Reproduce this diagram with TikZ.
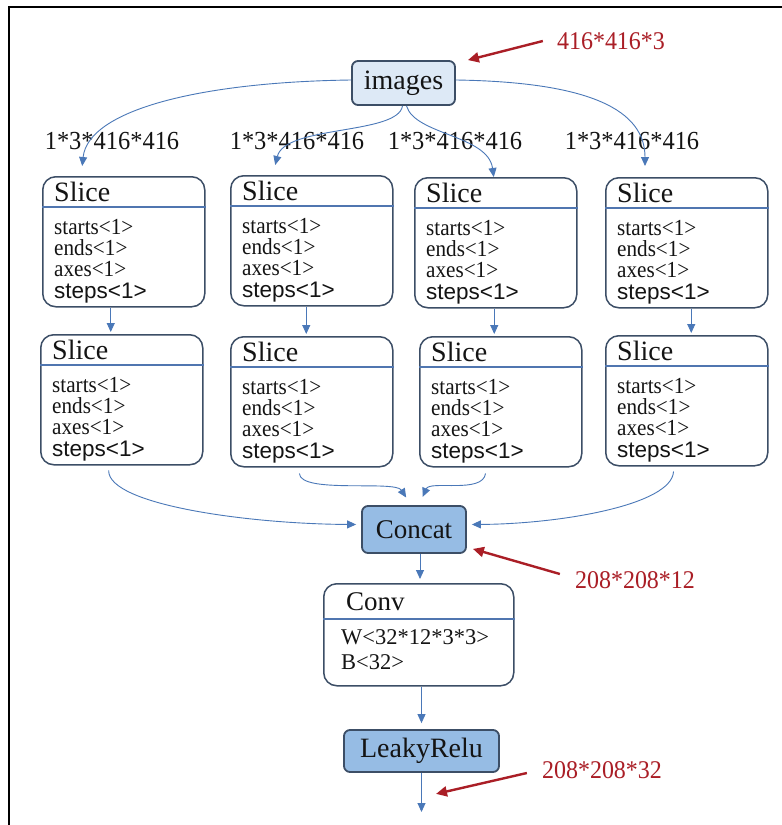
\documentclass[tikz,border=0pt]{standalone}
\usepackage{fontspec}
\setmainfont{Liberation Serif}
\newfontfamily\asans{Liberation Sans}
\newfontfamily\cserif{Liberation Serif}[FakeStretch=0.92]
\newfontfamily\lserif{Liberation Serif}[FakeStretch=0.94]
\usetikzlibrary{arrows.meta}
\definecolor{bordc}{RGB}{60,78,102}
\definecolor{hdrc}{RGB}{80,118,176}
\definecolor{cblue}{RGB}{74,120,184}
\definecolor{lightb}{RGB}{221,233,246}
\definecolor{midb}{RGB}{150,188,228}
\definecolor{redc}{RGB}{170,30,38}
\definecolor{txt}{RGB}{20,20,20}
\tikzset{
  slicebox/.style={draw=bordc,line width=1.5pt,rounded corners=13pt,minimum width=162pt,minimum height=130pt,inner sep=0pt},
  convbox/.style={draw=bordc,line width=1.5pt,rounded corners=13pt,minimum width=190pt,minimum height=102pt,inner sep=0pt},
  hdr/.style={draw=hdrc,line width=1.2pt},
  ttl/.style={inner sep=0pt,text=txt,font=\fontsize{28}{28}\selectfont},
  bdy/.style={inner sep=0pt,text=txt,text height=14pt,text depth=3pt,font=\cserif\fontsize{23}{23}\selectfont},
  bdys/.style={inner sep=0pt,text=txt,text height=14pt,text depth=3pt,font=\asans\fontsize{22.5}{22.5}\selectfont},
  opbox/.style={draw=bordc,line width=1.8pt,rounded corners=6pt,inner sep=0pt,text=txt},
  dimlbl/.style={inner sep=0pt,text=txt,font=\lserif\fontsize{26}{26}\selectfont},
  redlbl/.style={inner sep=0pt,text=redc,font=\lserif\fontsize{25.5}{25.5}\selectfont},
  conn/.style={draw=cblue,line width=0.9pt,-{Triangle[length=9pt,width=8pt]}},
  redarr/.style={draw=redc,line width=2.4pt,-{Triangle[length=11pt,width=10pt]}}
}
\newcommand\slicebx[3]{%
  \node[slicebox,anchor=north west] (#1) at (#2,#3) {};
  \draw[hdr] ([yshift=-31pt]#1.north west) -- ([yshift=-31pt]#1.north east);
  \node[ttl,anchor=base west] (#1t) at (#2+12,#3+25) {Slice};
  \node[bdy,anchor=base west] (#1a) at (#2+12,#3+58) {starts<1>};
  \node[bdy,anchor=base west] (#1b) at (#2+12,#3+79) {ends<1>};
  \node[bdy,anchor=base west] (#1c) at (#2+12,#3+100) {axes<1>};
  \node[bdys,anchor=base west] (#1d) at (#2+12,#3+122) {steps<1>};
}
\begin{document}
\begin{tikzpicture}[x=1pt,y=-1pt]
\useasboundingbox (0,0) rectangle (782,825);
\fill[white] (0,0) rectangle (782,825);
% frame
\draw[black,line width=2.6pt] (9,825) -- (9,7) -- (782,7);

% images
\node[opbox,fill=lightb,minimum width=103pt,minimum height=44pt,font=\fontsize{28}{28}\selectfont] (img) at (403.5,83) {images};

% slices
\slicebx{sa}{42}{176}
\slicebx{sb}{230}{175}
\slicebx{sc}{414}{177}
\slicebx{sd}{605}{177}
\slicebx{ta}{40}{334}
\slicebx{tb}{230}{336}
\slicebx{tc}{419}{336}
\slicebx{td}{605}{335}

% labels
\node[dimlbl] (la) at (112,141) {1*3*416*416};
\node[dimlbl] (lb) at (297,141) {1*3*416*416};
\node[dimlbl] (lc) at (455,141) {1*3*416*416};
\node[dimlbl] (ld) at (632,141) {1*3*416*416};

% concat
\node[opbox,fill=midb,minimum width=104pt,minimum height=47pt,font=\fontsize{27}{27}\selectfont] (cat) at (414,529.5) {Concat};

% conv
\node[convbox,anchor=north west] (conv) at (323,583) {};
\draw[hdr] ([yshift=-36pt]conv.north west) -- ([yshift=-36pt]conv.north east);
\node[inner sep=0pt,text=txt,anchor=base west,font=\fontsize{27}{27}\selectfont] (convt) at (346,610) {Conv};
\node[inner sep=0pt,text=txt,anchor=base west,font=\fontsize{22.5}{22.5}\selectfont] (convw) at (341,644) {W<32*12*3*3>};
\node[inner sep=0pt,text=txt,anchor=base west,font=\fontsize{22.5}{22.5}\selectfont] (convb) at (341,669) {B<32>};

% leaky
\node[opbox,fill=midb,minimum width=155pt,minimum height=42pt,font=\fontsize{28}{28}\selectfont] (leaky) at (421.5,751) {LeakyRelu};
\coordinate (out) at (421.5,812);

% connectors from images
\draw[conn,shorten >=2pt] ([yshift=3pt]img.west) .. controls (200,82) and (88,110) .. ([xshift=40pt,yshift=8pt]sa.north west);
\draw[conn] ([xshift=-1pt]img.south) .. controls (398,135) and (285,125) .. ([xshift=-36.5pt,yshift=10pt]sb.north);
\draw[conn] ([xshift=3pt]img.south) .. controls (415,135) and (488,135) .. ([xshift=-2pt]sc.north);
\draw[conn,shorten >=2pt] ([yshift=3pt]img.east) .. controls (590,82) and (645,110) .. ([xshift=40pt,yshift=9pt]sd.north west);

% row1 -> row2
\draw[conn,shorten >=2pt] ([xshift=-13pt]sa.south) -- ([xshift=-13pt]sa.south |- ta.north);
\draw[conn,shorten >=2pt] ([xshift=-5.5pt]sb.south) -- ([xshift=-5.5pt]sb.south |- tb.north);
\draw[conn,shorten >=2pt] ([xshift=-1.5pt]sc.south) -- ([xshift=-1.5pt]sc.south |- tc.north);
\draw[conn,shorten >=2pt] ([xshift=4.5pt]sd.south) -- ([xshift=4.5pt]sd.south |- td.north);

% row2 -> concat
\draw[conn,shorten <=5pt,shorten >=5pt] ([xshift=-13pt]ta.south) .. controls (108,505) and (250,524) .. ([yshift=5pt]cat.west);
\draw[conn,shorten <=6pt,shorten >=9pt] ([xshift=-12.5pt]tb.south) .. controls (300,494) and (395,480) .. ([xshift=-3pt]cat.north);
\draw[conn,shorten <=6pt,shorten >=9pt] ([xshift=-14.5pt]tc.south) .. controls (483,494) and (430,480) .. ([xshift=5pt]cat.north);
\draw[conn,shorten <=5pt,shorten >=5pt] ([xshift=-13pt]td.south) .. controls (672,505) and (560,524) .. ([yshift=5pt]cat.east);

% vertical chain
\draw[conn,shorten >=4pt] (cat.south -| 420,0) -- (conv.north -| 420,0);
\draw[conn,shorten >=6pt] (conv.south -| leaky.north) -- (leaky.north);
\draw[conn] (leaky.south) -- (out);

% red annotations
\node[redlbl] (r1) at (611,41) {416*416*3};
\node[redlbl] (r2) at (635,580) {208*208*12};
\node[redlbl] (r3) at (602,770) {208*208*32};
\draw[redarr] ([xshift=-14pt]r1.west) -- ([xshift=12pt]img.north east);
\draw[redarr] ([xshift=-15pt,yshift=6pt]r2.west) -- ([xshift=6pt,yshift=5pt]cat.south east);
\draw[redarr] ([xshift=-15pt,yshift=-3pt]r3.west) -- ([xshift=14.5pt,yshift=-21pt]leaky.south);
\end{tikzpicture}
\end{document}
